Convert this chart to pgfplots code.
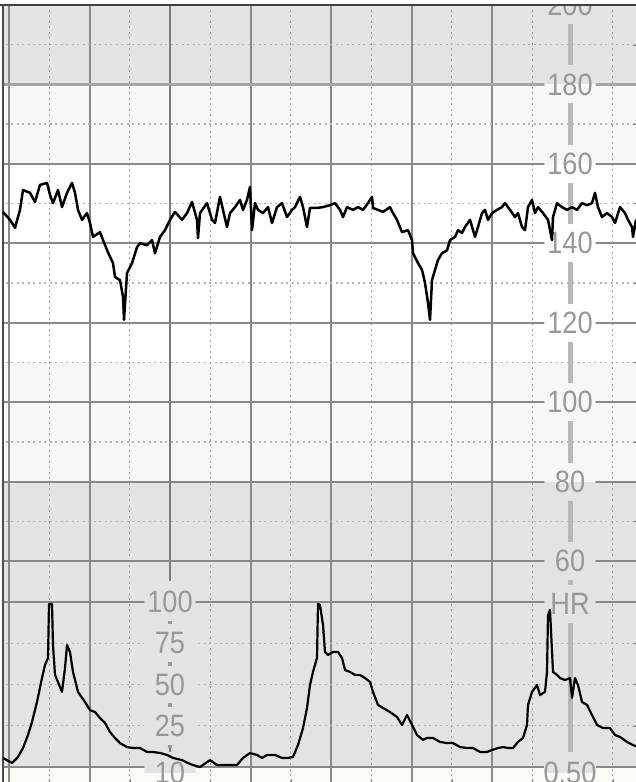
\documentclass[border=0pt]{standalone}
\usepackage{pgfplots}
\pgfplotsset{compat=1.18}
\usepackage{fontspec}
\setmainfont{Liberation Sans}
\definecolor{bandG}{HTML}{E3E3E3}
\definecolor{bandL}{HTML}{F7F7F7}
\definecolor{bandB}{HTML}{FBFBF6}
\definecolor{labgray}{HTML}{989898}
\definecolor{bargray}{HTML}{B8B8B8}
\definecolor{solidgrid}{HTML}{898989}
\definecolor{dotgridx}{HTML}{9E9E9E}
\definecolor{dotgridy}{HTML}{B4B4B4}
\pgfplotsset{
  base/.style={width=636bp,height=782bp,scale only axis,at={(0,0)},anchor=south west,
    xmin=0,xmax=636,axis line style={draw=none},
    xmajorticks=false,xminorticks=false,ymajorticks=false,yminorticks=false},
  fhr/.style={base,ymin=4.33,ymax=201.26},
  toco/.style={base,ymin=-9.09,ymax=464.85},
  gstyles/.style={major grid style={solidgrid,line width=2bp},
    minor x grid style={dotgridx,line width=1.4bp,dash pattern=on 2bp off 3.5bp},
    minor y grid style={dotgridy,line width=1.4bp,dash pattern=on 2bp off 3.5bp}},
}
\tikzset{
  lab/.style n args={2}{font=\fontsize{31}{31}\selectfont,text=labgray,inner sep=0pt,
    minimum width=58bp,minimum height=38bp,xscale=0.88,
    path picture={\fill[#1] (path picture bounding box.north west) rectangle (path picture bounding box.east);
      \fill[#2] (path picture bounding box.west) rectangle (path picture bounding box.south east);}},
}
\pgfplotstableread{
x fhr
3 147.9
10 145.9
15 143.9
20 148.4
23 153.4
30 152.7
35 150.4
40 154.7
47 155.2
50 152.2
53 150.1
58 153.4
62 149.1
67 152.7
72 155.2
75 152.7
78 148.4
82 145.9
87 147.6
90 145.1
93 141.6
100 142.8
103 140.8
108 137.7
113 135.0
115 131.5
120 130.7
123 126.5
124 120.7
127 132.5
132 135.0
137 139.0
140 140.0
147 139.5
152 140.8
155 137.5
160 141.6
165 143.3
170 145.9
175 147.9
182 145.9
187 147.6
192 150.4
197 145.9
198 141.3
200 147.6
207 150.1
212 145.9
215 145.1
220 151.7
223 148.4
227 144.1
230 147.6
235 149.1
240 150.9
243 148.4
247 150.9
250 154.2
252 143.3
255 150.1
258 148.4
263 147.6
268 149.1
272 145.1
277 149.1
282 150.1
287 146.6
292 148.4
295 149.1
300 151.7
303 149.1
307 144.1
310 148.9
317 148.9
323 149.1
330 149.6
335 150.1
340 148.4
343 146.6
347 149.1
353 148.4
358 149.1
363 148.4
368 150.1
372 151.7
373 148.9
378 148.4
383 147.9
390 149.1
393 147.6
397 145.9
402 142.8
408 143.3
412 140.8
413 137.5
418 135.0
422 133.3
425 130.0
428 125.0
430 120.7
432 130.7
435 133.3
438 135.8
442 137.5
447 138.2
450 140.8
455 141.6
458 143.3
462 142.6
465 144.1
470 145.9
475 141.6
478 144.1
482 147.6
485 148.4
488 145.9
492 147.6
497 148.4
502 149.1
505 150.1
510 148.4
515 146.6
518 147.6
522 144.1
525 143.3
528 149.1
532 150.9
535 147.6
538 149.1
543 147.6
548 145.9
552 140.8
553 146.6
557 150.1
562 149.1
567 148.4
572 149.1
577 148.4
582 150.1
587 149.6
592 150.1
595 152.7
598 149.1
602 146.6
607 147.6
612 146.6
615 145.1
620 149.1
625 147.6
628 145.9
632 144.1
633 141.6
636 145.9
}\fhrdata
\pgfplotstableread{
x toco
3 5.5
12 2.4
18 6.1
23 11.5
28 19.4
32 27.3
37 39.4
42 53.9
45 61.8
48 66.1
49 98.8
52 98.8
53 73.9
55 55.8
58 51.5
62 45.5
65 60.0
67 73.9
70 69.7
73 57.6
78 45.5
85 39.4
90 34.5
95 33.3
100 29.7
105 26.7
110 21.2
115 17.6
120 14.5
127 12.1
133 11.5
140 11.5
147 9.1
153 9.1
160 8.5
167 7.3
173 5.5
182 4.2
188 2.4
193 1.2
200 0.0
210 4.2
217 1.2
227 1.2
237 1.2
243 5.5
250 8.5
257 7.3
262 5.5
267 7.3
275 7.3
282 5.5
288 5.5
293 6.1
298 13.3
303 23.6
307 35.8
310 49.7
313 57.6
317 66.1
318 98.8
320 98.2
323 86.1
325 69.7
328 67.9
333 69.7
338 69.7
342 66.1
345 58.8
350 57.6
355 55.8
360 55.8
365 53.9
370 51.5
373 45.5
378 37.6
383 35.8
390 33.3
397 30.3
402 25.5
407 31.5
412 25.5
417 19.4
423 16.4
427 17.6
433 17.6
440 15.2
447 14.5
453 14.5
460 12.1
467 11.5
473 11.5
480 9.1
487 9.1
492 10.3
498 11.5
503 12.1
508 11.5
513 11.5
518 15.2
523 17.6
527 25.5
528 37.6
532 45.5
537 49.7
540 43.6
545 45.5
547 57.6
548 92.1
550 95.2
553 57.6
557 55.8
560 53.9
565 52.7
570 53.9
572 41.8
575 53.9
578 49.7
582 39.4
587 37.6
592 31.5
597 25.5
603 23.6
610 23.6
615 19.4
620 18.2
627 15.2
633 13.3
636 12.5
}\tocodata
\begin{document}
\begin{tikzpicture}
% background bands
\begin{axis}[fhr]
\fill[white] (0,110) rectangle (636,201.26);
\fill[bandG] (0,180) rectangle (636,201.26);
\fill[bandL] (0,160) rectangle (636,180);
\fill[bandL] (0,80) rectangle (636,110);
\fill[bandG] (0,8.1) rectangle (636,80);
\fill[bandB] (0,4.33) rectangle (636,8.1);
\end{axis}
% vertical grid and toco horizontal grid
\begin{axis}[toco,gstyles,grid=both,
  xtick={9,89.5,170,250.5,331,411.5,492},
  minor xtick={49.25,129.75,210.25,290.75,371.25,451.75,532.25,612.75},
  ytick={0,100},minor ytick={25,50,75}]
\draw[black!52,line width=2.6bp] (170,-9.09) -- (170,464.85);
\end{axis}
% FHR grid, labels, trace
\begin{axis}[fhr,gstyles,xtick=\empty,ymajorgrids=true,yminorgrids=true,
  ytick={60,80,...,180},minor ytick={70,90,...,190}]
\draw[black!35,line width=3bp] (0,180) -- (636,180);
\draw[bargray,line width=5bp] (570,201.26) -- (570,12);
\node[lab={bandG}{bandG}] at (570,200) {200};
\node[lab={bandG}{bandL}] at (570,180) {180};
\node[lab={bandL}{white}] at (570,160) {160};
\node[lab={white}{white}] at (570,140) {140};
\node[lab={white}{white}] at (570,120) {120};
\node[lab={bandL}{bandL}] at (570,100) {100};
\node[lab={bandL}{bandG}] at (570,80) {80};
\node[lab={bandG}{bandG}] at (570,60) {60};
\node[lab={bandG}{bandG}] at (570,49.2) {HR};
\node[lab={bandG}{bandB}] at (570,6.6) {0.50};
\fill[white] (0,200) rectangle (636,201.26);
\fill[white] (0,4.33) rectangle (3,201.26);
\draw[black!75,line width=1.8bp] (0,200) -- (636,200);
\draw[black!70,line width=1.8bp] (3,4.33) -- (3,200);
\addplot[black,line width=2.5bp,line join=round] table[x=x,y=fhr] {\fhrdata};
\end{axis}
% toco labels and trace
\begin{axis}[toco]
\node[lab={bandG}{bandG},minimum height=41bp] at (170,100) {100};
\node[lab={bandG}{bandG},minimum height=41bp] at (170,75) {75};
\node[lab={bandG}{bandG},minimum height=41bp] at (170,50) {50};
\node[lab={bandG}{bandG},minimum height=41bp] at (170,25) {25};
\node[lab={bandG}{bandB},minimum height=41bp] at (170,-3.6) {10};
\node[fill=labgray,inner sep=0pt,minimum size=3.5bp] at (170,87.5) {};
\node[fill=labgray,inner sep=0pt,minimum size=3.5bp] at (170,62.5) {};
\node[fill=labgray,inner sep=0pt,minimum size=3.5bp] at (170,37.5) {};
\node[fill=labgray,inner sep=0pt,minimum size=3.5bp] at (170,12.5) {};
\addplot[black,line width=2.2bp,line join=round] table[x=x,y=toco] {\tocodata};
\end{axis}
\pgfresetboundingbox
\path[use as bounding box] (0,0) rectangle (636bp,782bp);
\end{tikzpicture}
\end{document}
